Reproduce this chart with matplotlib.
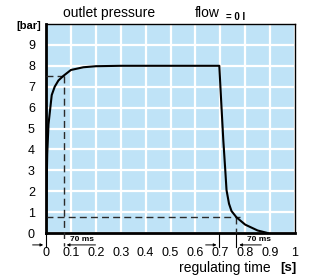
import matplotlib
matplotlib.use('Agg')
import matplotlib.pyplot as plt

plt.rcParams['font.family'] = ['Liberation Sans', 'DejaVu Sans']

# pressure curve
t = [0, 0.002, 0.005, 0.01, 0.023, 0.035, 0.05, 0.07, 0.1, 0.15, 0.2, 0.3,
     0.696, 0.704, 0.712, 0.72, 0.725, 0.735, 0.745, 0.765, 0.8, 0.85, 0.89]
p = [0, 2.0, 3.8, 5.2, 6.6, 7.0, 7.3, 7.52, 7.8, 7.93, 7.98, 8.0,
     8.0, 6.2, 4.45, 3.0, 2.05, 1.4, 1.05, 0.75, 0.4, 0.12, 0.0]

rise_t = 0.072
rise_p = 7.5
fall_t = 0.765
fall_p = 0.75
close_t = 0.696

xticks = [0, 0.1, 0.2, 0.3, 0.4, 0.5, 0.6, 0.7, 0.8, 0.9, 1]
xlabels = ['0', '0.1', '0.2', '0.3', '0.4', '0.5', '0.6', '0.7', '0.8', '0.9', '1']
yticks = [0, 1, 2, 3, 4, 5, 6, 7, 8, 9]

fig = plt.figure(figsize=(3.12, 2.78), dpi=100)
ax = fig.add_axes([46/312, 1 - 233/278, 249/312, 209/278])
ax.set_facecolor('#bfe3f7')
ax.set_xlim(0, 1)
ax.set_ylim(0, 10)
ax.set_xticks(xticks)
ax.set_xticklabels(xlabels)
ax.set_yticks(yticks)
ax.set_yticks([10], minor=True)
ax.grid(True, color='white', linewidth=1.6)
ax.grid(True, which='minor', color='white', linewidth=1.6)
ax.set_axisbelow(True)
ax.tick_params(which='both', length=0, labelsize=9)
ax.tick_params(axis='x', pad=10)
ax.tick_params(axis='y', pad=8)
ax.spines['left'].set_linewidth(2)
ax.spines['bottom'].set_linewidth(2)
ax.spines['top'].set_linewidth(1)
ax.spines['right'].set_linewidth(1)

ax.plot(t, p, color='black', linewidth=1.5, zorder=5)

dash = dict(color='#2a2a2a', linewidth=1, linestyle=(0, (5, 3)), clip_on=False, zorder=4)
ax.plot([0, rise_t], [rise_p, rise_p], **dash)
ax.plot([rise_t, rise_t], [rise_p, -0.6], **dash)
ax.plot([0, 0.78], [fall_p, fall_p], **dash)
ax.plot([fall_t, fall_t], [fall_p, 0], **dash)

# 70 ms dimension marks under the axis
solid = dict(color='black', linewidth=0.8, clip_on=False)
ya = -0.57
ax.plot([0, 0], [0, -0.65], **solid)
ax.plot([fall_t, fall_t], [0, -0.65], **solid)
ax.plot([close_t, close_t], [0, -0.65], **solid)
arr = dict(arrowstyle='-|>', color='black', lw=0.7, mutation_scale=4)
ax.annotate('', xy=(0, ya), xytext=(-0.065, ya), arrowprops=arr, annotation_clip=False)
ax.annotate('', xy=(rise_t, ya), xytext=(0.21, ya), arrowprops=arr, annotation_clip=False)
ax.annotate('', xy=(close_t, ya), xytext=(0.63, ya), arrowprops=arr, annotation_clip=False)
ax.annotate('', xy=(fall_t, ya), xytext=(0.876, ya), arrowprops=arr, annotation_clip=False)
ax.text(0.145, -0.3, '70 ms', fontsize=6, fontweight='bold', ha='center', va='center')
ax.text(0.856, -0.3, '70 ms', fontsize=6, fontweight='bold', ha='center', va='center')

fig.text(109/312, 1 - 13/278, 'outlet pressure', fontsize=10, ha='center', va='center')
fig.text(195/312, 1 - 13/278, 'flow', fontsize=10, ha='left', va='center')
fig.text(226/312, 1 - 17/278, '= 0 l', fontsize=7, fontweight='bold', ha='left', va='center')
fig.text(29/312, 1 - 26/278, '[bar]', fontsize=8, fontweight='bold', ha='center', va='center')
fig.text(225/312, 1 - 268/278, 'regulating time', fontsize=10, ha='center', va='center')
fig.text(288/312, 1 - 268/278, '[s]', fontsize=9.5, fontweight='bold', ha='center', va='center')

fig.savefig('out.png', dpi=100)
